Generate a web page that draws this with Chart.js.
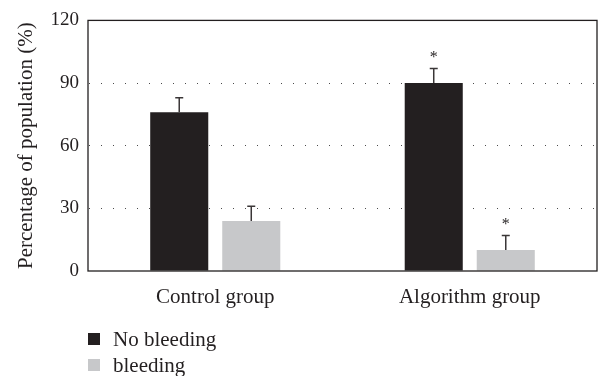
<!DOCTYPE html>
<html>

<head>
    <script src="https://cdn.jsdelivr.net/npm/chart.js@4.4.1/dist/chart.umd.min.js"></script>
    <style>
        body {
            margin: 0;
            background: #fff;
            font-family: 'Liberation Serif', 'DejaVu Serif', serif;
            color: #231f20;
        }

        #wrap {
            position: relative;
            width: 598px;
            height: 376px;
        }

        #legend {
            position: absolute;
            left: 88px;
            top: 326px;
            font-size: 21px;
            line-height: 26px;
        }

        #legend div {
            display: flex;
            align-items: center;
        }

        #legend span.box {
            display: inline-block;
            width: 12px;
            height: 12px;
            margin-right: 13px;
        }
    </style>
    <title>Percentage of population</title>
</head>

<body>
    <div id="wrap">
        <canvas id="myChart" width="598" height="376"></canvas>
        <div id="legend"></div>
    </div>
    <script>
        // values
        var categories = ['Control group', 'Algorithm group'];
        var noBleeding = [76, 90];
        var noBleedingErr = [7, 7];
        var noBleedingStar = [false, true];
        var bleeding = [24, 10];
        var bleedingErr = [7, 7];
        var bleedingStar = [false, true];
        var yTicks = [0, 30, 60, 90, 120];

        var ink = '#231f20';
        var serif = "'Liberation Serif', 'DejaVu Serif', serif";

        // upper error bars + significance stars
        var errorBars = {
            id: 'errorBars',
            afterDatasetsDraw: function (chart) {
                var ctx = chart.ctx;
                var y = chart.scales.y;
                ctx.save();
                chart.data.datasets.forEach(function (ds, i) {
                    chart.getDatasetMeta(i).data.forEach(function (bar, j) {
                        var top = y.getPixelForValue(ds.data[j] + ds.err[j]);
                        ctx.strokeStyle = '#3a3637';
                        ctx.lineWidth = 1.5;
                        ctx.beginPath();
                        ctx.moveTo(bar.x, bar.y);
                        ctx.lineTo(bar.x, top);
                        ctx.moveTo(bar.x - 4, top);
                        ctx.lineTo(bar.x + 4, top);
                        ctx.stroke();
                        if (ds.star[j]) {
                            ctx.fillStyle = ink;
                            ctx.font = '16px ' + serif;
                            ctx.textAlign = 'center';
                            ctx.textBaseline = 'middle';
                            ctx.fillText('*', bar.x, top - 11);
                        }
                    });
                });
                ctx.restore();
            }
        };

        // full frame around the plot
        var frame = {
            id: 'frame',
            afterDraw: function (chart) {
                var a = chart.chartArea;
                var ctx = chart.ctx;
                ctx.save();
                ctx.strokeStyle = ink;
                ctx.lineWidth = 1.3;
                ctx.strokeRect(a.left, a.top, a.right - a.left, a.bottom - a.top);
                ctx.restore();
            }
        };

        var ctx = document.getElementById('myChart').getContext('2d');
        var myChart = new Chart(ctx, {
            type: 'bar',
            data: {
                labels: categories,
                datasets: [{
                    label: 'No bleeding',
                    data: noBleeding,
                    err: noBleedingErr,
                    star: noBleedingStar,
                    backgroundColor: ink
                }, {
                    label: 'bleeding',
                    data: bleeding,
                    err: bleedingErr,
                    star: bleedingStar,
                    backgroundColor: '#c7c8ca'
                }]
            },
            options: {
                responsive: false,
                animation: false,
                categoryPercentage: 0.566,
                barPercentage: 0.806,
                layout: {
                    padding: { top: 18, right: 1, bottom: 0, left: 0 }
                },
                plugins: {
                    legend: { display: false },
                    tooltip: { enabled: false }
                },
                scales: {
                    x: {
                        grid: { display: false },
                        border: { display: false },
                        ticks: {
                            color: ink,
                            padding: 6,
                            font: { family: serif, size: 21 }
                        },
                        afterFit: function (s) { s.height = 105; }
                    },
                    y: {
                        min: 0,
                        max: 120,
                        afterBuildTicks: function (s) {
                            s.ticks = yTicks.map(function (v) { return { value: v }; });
                        },
                        grid: {
                            drawTicks: false,
                            lineWidth: 1,
                            color: function (c) {
                                var v = c.tick && c.tick.value;
                                return (v === 0 || v === 120) ? 'rgba(0,0,0,0)' : '#4a4a4a';
                            }
                        },
                        border: { display: false, dash: [1, 11], dashOffset: -1 },
                        ticks: {
                            color: ink,
                            padding: 9,
                            font: { family: serif, size: 19 }
                        },
                        title: {
                            display: true,
                            text: 'Percentage of population (%)',
                            color: ink,
                            padding: { top: 14, bottom: 0 },
                            font: { family: serif, size: 21 }
                        },
                        afterFit: function (s) { s.width = 88; }
                    }
                }
            },
            plugins: [errorBars, frame]
        });

        // legend as html, built from the datasets
        var leg = document.getElementById('legend');
        myChart.data.datasets.forEach(function (ds) {
            var row = document.createElement('div');
            var box = document.createElement('span');
            box.className = 'box';
            box.style.background = ds.backgroundColor;
            row.appendChild(box);
            row.appendChild(document.createTextNode(ds.label));
            leg.appendChild(row);
        });
    </script>
</body>

</html>
